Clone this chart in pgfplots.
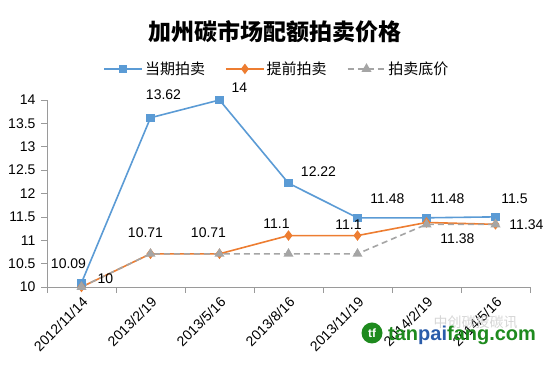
\documentclass[border=0pt]{standalone}
\usepackage{pgfplots}
\usepackage{pgfplotstable}
\pgfplotsset{compat=1.18}
\usepackage{fontspec}
\setmainfont{Liberation Sans}
\newfontfamily\cjk{Noto Sans CJK SC}
\definecolor{cblue}{HTML}{5B9BD5}
\definecolor{corange}{HTML}{ED7D31}
\definecolor{cgray}{HTML}{A5A5A5}
\definecolor{caxis}{HTML}{9A9A9A}
\definecolor{wgreen}{HTML}{1E8A1E}
\definecolor{wblue}{HTML}{2A5CAA}

\pgfplotstableread{
x y dx dy lab
0 10.09 -13 19 10.09
1 13.62 13 23 13.62
2 14 20 12 14
3 12.22 30 12 12.22
4 11.48 30 19 11.48
5 11.48 21 19 11.48
6 11.5 19 18 11.5
}\tblue
\pgfplotstableread{
x y dx dy lab
0 10 24 8 10
1 10.71 -5 21 10.71
2 10.71 -11 21 10.71
3 11.1 -12 12 11.1
4 11.1 -9 11 11.1
5 11.38 31 -16 11.38
6 11.34 31 0 11.34
}\torange
\pgfplotstableread{
x y
0 10
1 10.71
2 10.71
3 10.71
4 10.71
5 11.34
6 11.34
}\tgray

\begin{document}
\begin{tikzpicture}[x=1pt,y=1pt]
\path[use as bounding box] (0,0) rectangle (555,366);
\node[font=\cjk\bfseries\fontsize{23}{26}\selectfont] at (275,334) {加州碳市场配额拍卖价格};
\begin{axis}[
  at={(47pt,79pt)}, anchor=south west,
  scale only axis, width=483pt, height=187pt,
  xmin=-0.5, xmax=6.5, ymin=10, ymax=14,
  axis x line*=bottom, axis y line*=left,
  axis line style={draw=caxis, line width=0.7pt},
  tick style={draw=caxis, line width=0.7pt},
  tick align=outside,
  major tick length=6pt, minor tick length=6pt,
  xtick={0,...,6},
  xticklabels={2012/11/14,2013/2/19,2013/5/16,2013/8/16,2013/11/19,2014/2/19,2014/5/16},
  major x tick style={draw=none},
  minor xtick={-0.5,0.5,...,6.5},
  ytick={10,10.5,...,14},
  /pgf/number format/assume math mode=true,
  /pgf/number format/fixed,
  yticklabel style={font=\fontsize{14}{16}\selectfont, xshift=-2pt},
  xticklabel style={font=\fontsize{14}{16}\selectfont, rotate=45, anchor=north east, inner sep=2pt},
  clip=false,
  legend columns=3,
  legend style={at={(0.476,1.166)}, anchor=center, draw=none, fill=none,
    font=\cjk\fontsize{15}{17}\selectfont,
    /tikz/every even column/.append style={column sep=18pt}},
  legend image code/.code={\draw[mark repeat=2,mark phase=2] plot coordinates {(0pt,0pt) (19pt,0pt) (38pt,0pt)};},
  lbl/.style={
    point meta=explicit symbolic, nodes near coords,
    visualization depends on={\thisrow{dx}\as\dx},
    visualization depends on={\thisrow{dy}\as\dy},
    nodes near coords style={font=\fontsize{14}{16}\selectfont, text=black, anchor=center, xshift=\dx pt, yshift=\dy pt}},
]
\addplot[color=cblue, line width=1.6pt, mark=square*, mark size=3.3pt, mark options={fill=cblue, draw=cblue}, lbl]
  table[x=x, y=y, meta=lab] {\tblue};
\addlegendentry{当期拍卖}
\addplot[color=corange, line width=1.6pt, mark=diamond*, mark size=4pt, mark options={fill=corange, draw=corange}, lbl]
  table[x=x, y=y, meta=lab] {\torange};
\addlegendentry{提前拍卖}
\addplot[color=cgray, line width=1.6pt, dash pattern=on 6pt off 4pt, mark=triangle*, mark size=4.2pt, mark options={fill=cgray, draw=cgray, solid}]
  table[x=x, y=y] {\tgray};
\addlegendentry{拍卖底价}
\end{axis}
\node[text=black!16, font=\cjk\fontsize{14}{16}\selectfont, anchor=west] at (430,44) {中创碳投碳讯};
\node[circle, fill=wgreen, minimum size=21pt, inner sep=0pt, font=\bfseries\fontsize{12}{12}\selectfont, text=white] at (372,33) {tf};
\node[anchor=west, font=\bfseries\fontsize{20}{22}\selectfont, inner sep=0pt] at (388,31) {\textcolor{wgreen}{tan}\textcolor{wblue}{pai}\textcolor{wgreen}{fang.com}};
\end{tikzpicture}
\end{document}
